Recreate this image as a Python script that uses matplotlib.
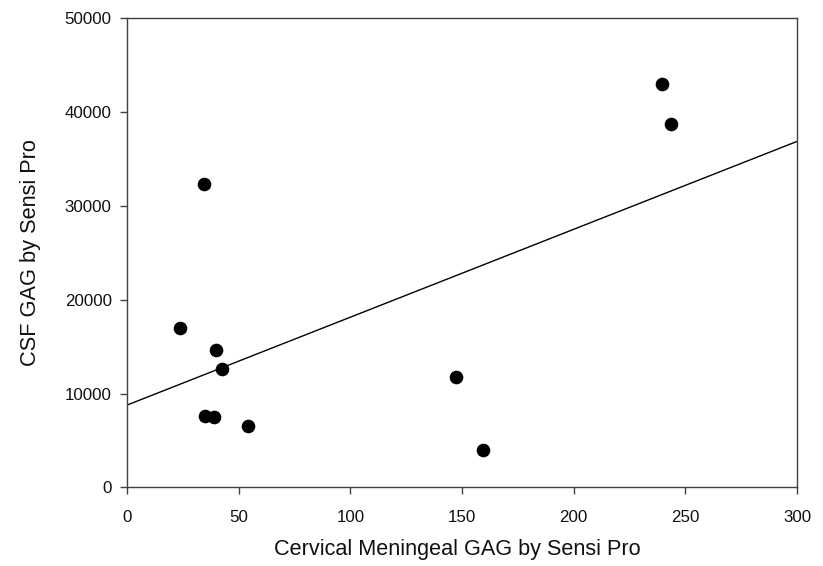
import numpy as np
import matplotlib
matplotlib.use("Agg")
import matplotlib.pyplot as plt

plt.rcParams['font.family'] = ['Liberation Sans', 'DejaVu Sans']

# ---------------------------------------------------------------------------
# Data
# ---------------------------------------------------------------------------
meningeal_gag = [23.7, 34.5, 34.8, 39.0, 39.7, 42.5, 54.3, 147.2, 159.4, 239.6, 243.6]
csf_gag       = [17000, 32290, 7640, 7470, 14660, 12600, 6540, 11720, 3990, 42930, 38750]

x_ticks = [0, 50, 100, 150, 200, 250, 300]
y_ticks = [0, 10000, 20000, 30000, 40000, 50000]

# linear regression line
slope, intercept = np.polyfit(meningeal_gag, csf_gag, 1)
x_fit = np.array([0, 300])
y_fit = intercept + slope * x_fit

# ---------------------------------------------------------------------------
# Figure
# ---------------------------------------------------------------------------
FRAME = (0.25, 0.25, 0.25)

fig = plt.figure(figsize=(8.23, 5.66), dpi=100, facecolor="white")
ax = fig.add_axes([0.1543, 0.1387, 0.8141, 0.8295])

ax.plot(x_fit, y_fit, color="black", lw=1.0)
ax.plot(meningeal_gag, csf_gag, "o", color="black", ms=8.8, mec="black")

ax.set_xlim(0, 300)
ax.set_ylim(0, 50000)
ax.set_xticks(x_ticks)
ax.set_yticks(y_ticks)
ax.tick_params(axis="x", direction="out", length=5, width=1, pad=11,
               labelsize=12.2, colors="#111111")
ax.tick_params(axis="y", direction="out", length=5, width=1, pad=6,
               labelsize=12.2, colors="#111111")
ax.tick_params(color=FRAME)
for spine in ax.spines.values():
    spine.set_edgecolor(FRAME)
    spine.set_linewidth(1.0)

ax.set_xlabel("Cervical Meningeal GAG by Sensi Pro", fontsize=15.6, color="#111111")
ax.set_ylabel("CSF GAG by Sensi Pro", fontsize=15.7, color="#111111")
ax.xaxis.set_label_coords(0.4925, -0.11)
ax.yaxis.set_label_coords(-0.128, 0.5)

fig.savefig("out.png", dpi=100, facecolor="white")
